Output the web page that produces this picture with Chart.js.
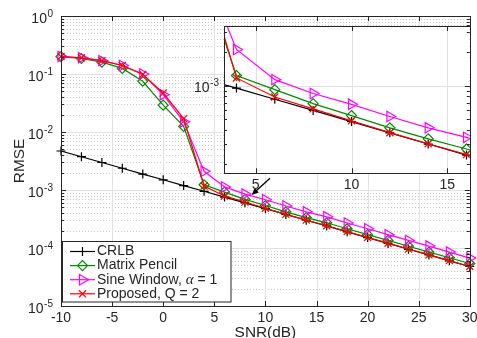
<!DOCTYPE html>
<html>
<head>
<meta charset="utf-8">
<script src="https://cdn.jsdelivr.net/npm/chart.js@4.4.0/dist/chart.umd.min.js"></script>
<style>
  html, body { margin: 0; padding: 0; background: #fff; }
  #wrap { position: relative; width: 477px; height: 338px; overflow: hidden; }
  #main { position: absolute; left: 0; top: 0; }
  #inset { position: absolute; left: 180px; top: 0; }
</style>
</head>
<body>
<div id="wrap">
  <canvas id="main" width="477" height="338"></canvas>
  <canvas id="inset" width="297" height="200"></canvas>
</div>
<script>
// values (RMSE vs SNR in dB)
const snr = [-10, -8, -6, -4, -2, 0, 2, 4, 6, 8, 10, 12, 14, 16, 18, 20, 22, 24, 26, 28, 30];
const crlb = [4.7e-3, 3.75e-3, 2.98e-3, 2.37e-3, 1.88e-3, 1.5e-3, 1.19e-3, 9.5e-4, 7.55e-4, 6.0e-4, 4.77e-4,
  3.79e-4, 3.01e-4, 2.4e-4, 1.9e-4, 1.51e-4, 1.2e-4, 9.5e-5, 7.6e-5, 6.0e-5, 4.8e-5];
const matrixPencil = [0.2, 0.185, 0.16, 0.125, 0.075, 0.029, 0.0125, 1.23e-3, 9.2e-4, 6.9e-4, 5.4e-4,
  4.2e-4, 3.35e-4, 2.72e-4, 2.15e-4, 1.7e-4, 1.35e-4, 1.07e-4, 8.5e-5, 6.8e-5, 5.4e-5];
const sineWindow = [0.2, 0.19, 0.17, 0.14, 0.1, 0.044, 0.015, 2.1e-3, 1.13e-3, 8.5e-4, 6.8e-4,
  5.3e-4, 4.2e-4, 3.45e-4, 2.7e-4, 2.15e-4, 1.7e-4, 1.35e-4, 1.08e-4, 8.5e-5, 6.7e-5];
const proposed = [0.2, 0.19, 0.17, 0.14, 0.098, 0.047, 0.017, 1.17e-3, 7.9e-4, 6.2e-4, 4.85e-4,
  3.8e-4, 3.03e-4, 2.42e-4, 1.92e-4, 1.52e-4, 1.21e-4, 9.6e-5, 7.6e-5, 6.05e-5, 4.8e-5];

const seriesNames = ['CRLB', 'Matrix Pencil', 'Sine Window', 'Proposed, Q = 2'];
const xTickLabels = [-10, -5, 0, 5, 10, 15, 20, 25, 30];
const yTickExps = [0, -1, -2, -3, -4, -5];
const insetXTickLabels = [5, 10, 15];
const insetYTickExps = [-3];
const minorMult = [2, 3, 4, 5, 6, 7, 8, 9];

const FONT = '"Liberation Sans", Arial, Helvetica, sans-serif';
const axisColor = '#262626';
const majorGrid = '#e2e2e2';
const minorGrid = '#c9c9c9';

const styles = [
  { color: '#000000', pointStyle: 'cross', radius: 4.5, rotation: 0 },
  { color: '#008c00', pointStyle: 'rectRot', radius: 5, rotation: 0 },
  { color: '#ff00ff', pointStyle: 'triangle', radius: 6, rotation: 90 },
  { color: '#ff0000', pointStyle: 'crossRot', radius: 5, rotation: 0 }
];

function makeDatasets(clip) {
  return [crlb, matrixPencil, sineWindow, proposed].map((vals, i) => ({
    label: seriesNames[i],
    data: snr.map((x, k) => ({ x: x, y: vals[k] })),
    borderColor: styles[i].color,
    borderWidth: 1.2,
    pointStyle: styles[i].pointStyle,
    pointRadius: styles[i].radius,
    pointRotation: styles[i].rotation,
    pointBorderColor: styles[i].color,
    pointBackgroundColor: 'rgba(0,0,0,0)',
    pointBorderWidth: 1.2,
    fill: false,
    tension: 0,
    order: 4 - i,
    clip: clip
  }));
}

function hline(ctx, x1, x2, y) { ctx.beginPath(); ctx.moveTo(x1, y); ctx.lineTo(x2, y); ctx.stroke(); }
function vline(ctx, x, y1, y2) { ctx.beginPath(); ctx.moveTo(x, y1); ctx.lineTo(x, y2); ctx.stroke(); }
const crisp = v => Math.round(v) + 0.5;

function drawPow10(ctx, exp, right, gy) {
  const sup = String(exp);
  ctx.fillStyle = axisColor;
  ctx.textAlign = 'left';
  ctx.textBaseline = 'alphabetic';
  ctx.font = '10px ' + FONT;
  const sw = ctx.measureText(sup).width;
  ctx.font = '14px ' + FONT;
  const bw = ctx.measureText('10').width;
  const x0 = right - sw - bw - 0.5;
  ctx.fillText('10', x0, gy + 6.5);
  ctx.font = '10px ' + FONT;
  ctx.fillText(sup, x0 + bw + 0.5, gy + 0.5);
}

// box, inward ticks on all four sides, log minor ticks
function drawBoxAndTicks(ctx, a, x, y, xTicks, yExps, yMin, yMax) {
  ctx.strokeStyle = axisColor;
  ctx.lineWidth = 1;
  ctx.setLineDash([]);
  xTicks.forEach(v => {
    const px = crisp(x.getPixelForValue(v));
    vline(ctx, px, a.bottom, a.bottom - 5);
    vline(ctx, px, a.top, a.top + 5);
  });
  const lo = Math.floor(Math.log10(yMin)), hi = Math.ceil(Math.log10(yMax));
  for (let e = lo; e <= hi; e++) {
    [1].concat(minorMult).forEach(m => {
      const v = m * Math.pow(10, e);
      if (v < yMin * 1.0001 || v > yMax / 1.0001) return;
      const py = crisp(y.getPixelForValue(v));
      const len = m === 1 ? 5 : 3;
      hline(ctx, a.left, a.left + len, py);
      hline(ctx, a.right - len, a.right, py);
    });
  }
  ctx.strokeRect(crisp(a.left), crisp(a.top), Math.round(a.right - a.left), Math.round(a.bottom - a.top));
}

function markerAt(ctx, s, px, py) {
  ctx.strokeStyle = s.color;
  ctx.fillStyle = 'rgba(0,0,0,0)';
  ctx.lineWidth = 1.2;
  Chart.helpers.drawPoint(ctx, { pointStyle: s.pointStyle, radius: s.radius, rotation: s.rotation, borderWidth: 1.2 }, px, py);
}

// annotation arrow in data units of the main axes
const arrowTail = { x: 10.45, y: 1.6e-3 };
const arrowHead = { x: 8.65, y: 8.2e-4 };

const mainDecor = {
  id: 'mainDecor',
  beforeDatasetsDraw(chart) {
    const { ctx, chartArea: a, scales: { x, y } } = chart;
    ctx.save();
    ctx.lineWidth = 1;
    ctx.strokeStyle = minorGrid;
    ctx.setLineDash([1, 2]);
    yTickExps.forEach(e => {
      minorMult.forEach(m => {
        const v = m * Math.pow(10, e);
        if (v > 1) return;
        hline(ctx, a.left, a.right, crisp(y.getPixelForValue(v)));
      });
    });
    ctx.setLineDash([]);
    ctx.strokeStyle = majorGrid;
    yTickExps.forEach(e => hline(ctx, a.left, a.right, crisp(y.getPixelForValue(Math.pow(10, e)))));
    xTickLabels.forEach(v => vline(ctx, crisp(x.getPixelForValue(v)), a.top, a.bottom));
    ctx.restore();
  },
  afterDatasetsDraw(chart) {
    const { ctx, chartArea: a, scales: { x, y } } = chart;
    ctx.save();
    drawBoxAndTicks(ctx, a, x, y, xTickLabels, yTickExps, 1e-5, 1);

    // tick labels
    ctx.fillStyle = axisColor;
    ctx.font = '14px ' + FONT;
    ctx.textAlign = 'center';
    ctx.textBaseline = 'alphabetic';
    xTickLabels.forEach(v => ctx.fillText(String(v), x.getPixelForValue(v), a.bottom + 16));
    yTickExps.forEach(e => drawPow10(ctx, e, a.left - 8, y.getPixelForValue(Math.pow(10, e))));

    // axis titles
    ctx.fillStyle = axisColor;
    ctx.font = '15.4px ' + FONT;
    ctx.textAlign = 'center';
    ctx.fillText('SNR(dB)', (a.left + a.right) / 2, 337);
    ctx.save();
    ctx.translate(24, (a.top + a.bottom) / 2);
    ctx.rotate(-Math.PI / 2);
    ctx.fillText('RMSE', 0, 0);
    ctx.restore();

    // legend
    const lx = 62.5, ly = 241.5, lw = 168.5, lh = 60.5;
    ctx.fillStyle = '#ffffff';
    ctx.fillRect(lx, ly, lw, lh);
    ctx.strokeStyle = axisColor;
    ctx.lineWidth = 1;
    ctx.strokeRect(lx, ly, lw, lh);
    seriesNames.forEach((name, i) => {
      const ry = 251.5 + i * 14.1;
      const s = styles[i];
      ctx.strokeStyle = s.color;
      ctx.lineWidth = 1.2;
      hline(ctx, 70, 95, ry);
      markerAt(ctx, s, 82.5, ry);
      ctx.fillStyle = axisColor;
      ctx.textAlign = 'left';
      ctx.textBaseline = 'middle';
      ctx.font = '14px ' + FONT;
      let tx = 97;
      if (i === 2) {
        ctx.fillText(name + ', ', tx, ry);
        tx += ctx.measureText(name + ', ').width;
        ctx.font = 'italic 15px "Liberation Serif", "DejaVu Serif", serif';
        ctx.fillText('\u03b1', tx, ry);
        tx += ctx.measureText('\u03b1').width;
        ctx.font = '14px ' + FONT;
        ctx.fillText(' = 1', tx, ry);
      } else {
        ctx.fillText(name, tx, ry);
      }
    });

    // arrow
    const x1 = x.getPixelForValue(arrowTail.x), y1 = y.getPixelForValue(arrowTail.y);
    const x2 = x.getPixelForValue(arrowHead.x), y2 = y.getPixelForValue(arrowHead.y);
    const ang = Math.atan2(y2 - y1, x2 - x1);
    ctx.strokeStyle = '#000';
    ctx.fillStyle = '#000';
    ctx.lineWidth = 1.3;
    ctx.beginPath(); ctx.moveTo(x1, y1); ctx.lineTo(x2 - 4 * Math.cos(ang), y2 - 4 * Math.sin(ang)); ctx.stroke();
    ctx.beginPath();
    ctx.moveTo(x2, y2);
    ctx.lineTo(x2 - 7 * Math.cos(ang) + 3 * Math.sin(ang), y2 - 7 * Math.sin(ang) - 3 * Math.cos(ang));
    ctx.lineTo(x2 - 7 * Math.cos(ang) - 3 * Math.sin(ang), y2 - 7 * Math.sin(ang) + 3 * Math.cos(ang));
    ctx.closePath();
    ctx.fill();
    ctx.restore();
  }
};

const insetYMin = 1.65e-4, insetYMax = 3.4e-3;

const insetDecor = {
  id: 'insetDecor',
  beforeDraw(chart) {
    const { ctx, chartArea: a } = chart;
    ctx.save();
    ctx.fillStyle = '#ffffff';
    ctx.fillRect(a.left, a.top, a.right - a.left, a.bottom - a.top);
    ctx.restore();
  },
  beforeDatasetsDraw(chart) {
    const { ctx, chartArea: a, scales: { x, y } } = chart;
    ctx.save();
    ctx.lineWidth = 1;
    ctx.strokeStyle = majorGrid;
    insetYTickExps.forEach(e => hline(ctx, a.left, a.right, crisp(y.getPixelForValue(Math.pow(10, e)))));
    insetXTickLabels.forEach(v => vline(ctx, crisp(x.getPixelForValue(v)), a.top, a.bottom));
    ctx.restore();
  },
  afterDatasetsDraw(chart) {
    const { ctx, chartArea: a, scales: { x, y } } = chart;
    ctx.save();
    drawBoxAndTicks(ctx, a, x, y, insetXTickLabels, insetYTickExps, insetYMin, insetYMax);
    ctx.fillStyle = axisColor;
    ctx.font = '14px ' + FONT;
    ctx.textAlign = 'center';
    ctx.textBaseline = 'alphabetic';
    insetXTickLabels.forEach(v => ctx.fillText(String(v), x.getPixelForValue(v), a.bottom + 16));
    insetYTickExps.forEach(e => drawPow10(ctx, e, a.left - 5, y.getPixelForValue(Math.pow(10, e))));
    ctx.restore();
  }
};

function fixSize(w, h) {
  return scale => {
    if (w !== null) scale.width = w;
    if (h !== null) scale.height = h;
    scale.paddingLeft = 0; scale.paddingRight = 0;
    scale.paddingTop = 0; scale.paddingBottom = 0;
  };
}

function baseOptions(xMin, xMax, yMin, yMax, yWidth, xHeight, padding) {
  return {
    responsive: false,
    animation: false,
    events: [],
    layout: { padding: padding },
    plugins: { legend: { display: false }, tooltip: { enabled: false } },
    scales: {
      x: {
        type: 'linear', min: xMin, max: xMax,
        grid: { display: false }, border: { display: false },
        ticks: { display: false, includeBounds: false, stepSize: 5 },
        afterFit: fixSize(null, xHeight)
      },
      y: {
        type: 'logarithmic', min: yMin, max: yMax,
        grid: { display: false }, border: { display: false },
        ticks: { display: false, autoSkip: false },
        afterFit: fixSize(yWidth, null)
      }
    }
  };
}

new Chart(document.getElementById('main'), {
  type: 'line',
  data: { datasets: makeDatasets(false) },
  options: baseOptions(-10, 30, 1e-5, 1, 61, 32, { top: 16, right: 4.5, left: 0, bottom: 0 }),
  plugins: [mainDecor]
});

new Chart(document.getElementById('inset'), {
  type: 'line',
  data: { datasets: makeDatasets(0) },
  options: baseOptions(3.35, 16.17, insetYMin, insetYMax, 44, 26.7, { top: 26, right: 6.5, left: 0, bottom: 0 }),
  plugins: [insetDecor]
});
</script>
</body>
</html>
